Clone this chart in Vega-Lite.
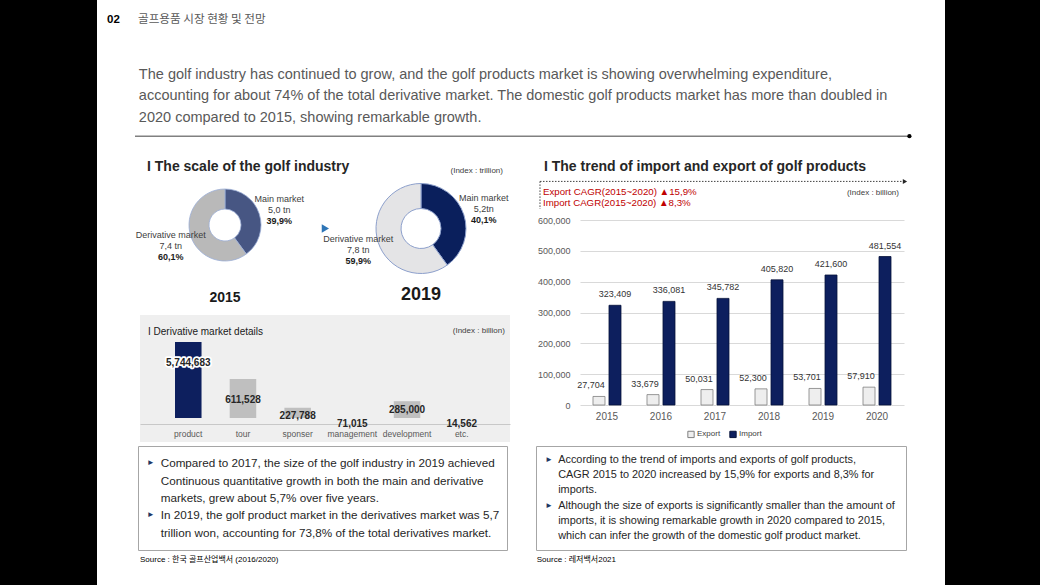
{
  "$schema": "https://vega.github.io/schema/vega-lite/v6.json",
  "background": "#ffffff",
  "padding": 0,
  "spacing": 0,
  "config": {
    "view": {"stroke": null},
    "concat": {"spacing": 0},
    "font": "Liberation Sans, Noto Sans CJK KR, DejaVu Sans, sans-serif"
  },
  "datasets": {
    "derivative": [
      {"category": "product", "value": 5744683},
      {"category": "tour", "value": 611528},
      {"category": "sponser", "value": 227788},
      {"category": "management", "value": 71015},
      {"category": "development", "value": 285000},
      {"category": "etc.", "value": 14562}
    ]
  },
  "hconcat": [
    {"width": 97, "height": 585, "view": {"fill": "#000000", "stroke": null}, "data": {"values": []}, "mark": "point"},
    {
      "spacing": 0,
      "vconcat": [
        {
          "spacing": 0,
          "hconcat": [
            {"width": 10, "height": 40, "data": {"values": []}, "mark": "point"},
            {"width": 26.6, "height": 40, "data": {"values": [{"section": "02"}]},
             "mark": {"type": "text", "align": "left", "baseline": "middle", "fontSize": 11.5, "fontWeight": "bold", "color": "#000000"},
             "encoding": {"x": {"datum": 0, "type": "quantitative", "scale": {"domain": [0, 1]}, "axis": null}, "text": {"field": "section"}}},
            {"width": 809.4, "height": 40, "data": {"values": [{"heading": "골프용품 시장 현황 및 전망"}]},
             "mark": {"type": "text", "align": "left", "baseline": "middle", "fontSize": 11.6, "color": "#595959", "font": "Noto Sans CJK KR"},
             "encoding": {"x": {"datum": 0.0049, "type": "quantitative", "scale": {"domain": [0, 1]}, "axis": null}, "text": {"field": "heading"}}}
          ]
        },
        {"width": 846, "height": 13, "data": {"values": []}, "mark": "point"},
        {
          "spacing": 0,
          "hconcat": [
            {"width": 36.6, "height": 86, "data": {"values": []}, "mark": "point"},
            {"width": 774.4, "height": 86,
             "layer": [
               {"data": {"values": [
                  {"line": 1, "text": "The golf industry has continued to grow, and the golf products market is showing overwhelming expenditure,"},
                  {"line": 2, "text": "accounting for about 74% of the total derivative market. The domestic golf products market has more than doubled in"},
                  {"line": 3, "text": "2020 compared to 2015, showing remarkable growth."}
                ]},
                "mark": {"type": "text", "align": "left", "baseline": "middle", "fontSize": 14.5, "color": "#595959"},
                "encoding": {
                  "x": {"datum": 0.005, "type": "quantitative", "scale": {"domain": [0, 1]}, "axis": null},
                  "y": {"field": "line", "type": "quantitative", "scale": {"domain": [0, 3.963], "reverse": true}, "axis": null},
                  "text": {"field": "text"}
                }},
               {"data": {"values": [{"divider": "section rule"}]},
                "mark": {"type": "rule", "color": "#808080", "strokeWidth": 1.5},
                "encoding": {"x": {"datum": 0, "type": "quantitative"}, "x2": {"datum": 1}, "y": {"datum": 3.87, "type": "quantitative"}}},
               {"data": {"values": [{"divider": "section rule"}]},
                "mark": {"type": "point", "filled": true, "size": 18, "color": "#000000", "opacity": 1},
                "encoding": {"x": {"datum": 1, "type": "quantitative"}, "y": {"datum": 3.87, "type": "quantitative"}}}
             ]},
            {"width": 32.6, "height": 86, "data": {"values": []}, "mark": "point"}
          ]
        },
        {
          "spacing": 0,
          "hconcat": [
            {"width": 32, "height": 301, "data": {"values": []}, "mark": "point"},
            {
              "spacing": 0,
              "vconcat": [
                {"width": 392, "height": 14, "data": {"values": []}, "mark": "point"},
                {"width": 392, "height": 28,
                 "layer": [
                   {"data": {"values": [{"label": "I The scale of the golf industry"}]},
                    "mark": {"type": "text", "align": "left", "baseline": "middle", "fontSize": 14, "fontWeight": "bold", "color": "#262626"},
                    "encoding": {"x": {"datum": 0.0459, "type": "quantitative", "scale": {"domain": [0, 1]}, "axis": null}, "text": {"field": "label"}}},
                   {"data": {"values": [{"label": "(Index : trillion)"}]},
                    "mark": {"type": "text", "align": "right", "baseline": "middle", "dy": 4, "fontSize": 8, "color": "#404040"},
                    "encoding": {"x": {"datum": 0.954, "type": "quantitative"}, "text": {"field": "label"}}}
                 ]},
                {
                  "spacing": 0,
                  "hconcat": [
                    {"width": 192, "height": 86,
                     "data": {"values": [
                       {"segment": "Main market", "amount": "5,0 tn", "share": 39.9, "pct": "39,9%"},
                       {"segment": "Derivative market", "amount": "7,4 tn", "share": 60.1, "pct": "60,1%"}
                     ]},
                     "encoding": {
                       "theta": {"field": "share", "type": "quantitative", "stack": true},
                       "order": {"field": "segment", "sort": "descending"}
                     },
                     "layer": [
                       {"mark": {"type": "arc", "outerRadius": 36, "innerRadius": 16, "stroke": "#9badd6", "strokeWidth": 0.8},
                        "encoding": {"detail": {"field": "segment"}, "color": {"condition": {"test": "datum.segment === 'Main market'", "value": "#475683"}, "value": "#b9b9b9"}}},
                       {"mark": {"type": "text", "radius": 57, "dy": -8, "fontSize": 9, "color": "#404040"},
                        "encoding": {"detail": {"field": "segment"}, "text": {"field": "segment"}}},
                       {"mark": {"type": "text", "radius": 57, "dy": 3, "fontSize": 9, "color": "#404040"},
                        "encoding": {"detail": {"field": "segment"}, "text": {"field": "amount"}}},
                       {"mark": {"type": "text", "radius": 57, "dy": 14, "fontSize": 9, "fontWeight": "bold", "color": "#1a1a1a"},
                        "encoding": {"detail": {"field": "segment"}, "text": {"field": "pct"}}},
                       {"data": {"values": [{"total": "12.3"}]},
                        "mark": {"type": "text", "fontSize": 13.5, "color": "#1fb1c0", "font": "Noto Sans"},
                        "encoding": {"text": {"field": "total"}}}
                     ]},
                    {"width": 200, "height": 93,
                     "data": {"values": [
                       {"segment": "Main market", "amount": "5,2tn", "share": 40.1, "pct": "40,1%"},
                       {"segment": "Derivative market", "amount": "7,8 tn", "share": 59.9, "pct": "59,9%"}
                     ]},
                     "encoding": {
                       "theta": {"field": "share", "type": "quantitative", "stack": true},
                       "order": {"field": "segment", "sort": "descending"}
                     },
                     "layer": [
                       {"mark": {"type": "arc", "outerRadius": 45, "innerRadius": 20, "stroke": "#8da0cc", "strokeWidth": 1},
                        "encoding": {"detail": {"field": "segment"}, "color": {"condition": {"test": "datum.segment === 'Main market'", "value": "#0a1f5c"}, "value": "#e4e4e6"}}},
                       {"mark": {"type": "text", "radius": 66, "dy": -10, "fontSize": 9, "color": "#404040"},
                        "encoding": {"detail": {"field": "segment"}, "text": {"field": "segment"}}},
                       {"mark": {"type": "text", "radius": 66, "dy": 1, "fontSize": 9, "color": "#404040"},
                        "encoding": {"detail": {"field": "segment"}, "text": {"field": "amount"}}},
                       {"mark": {"type": "text", "radius": 66, "dy": 12, "fontSize": 9, "fontWeight": "bold", "color": "#1a1a1a"},
                        "encoding": {"detail": {"field": "segment"}, "text": {"field": "pct"}}},
                       {"data": {"values": [{"total": "13.0"}]},
                        "mark": {"type": "text", "fontSize": 20, "color": "#1fb1c0", "font": "Noto Sans"},
                        "encoding": {"text": {"field": "total"}}},
                       {"data": {"values": [{"marker": "arrow"}]},
                        "mark": {"type": "point", "shape": "triangle-right", "filled": true, "size": 70, "color": "#2e75b6", "opacity": 1},
                        "encoding": {"x": {"datum": 0.022, "type": "quantitative", "scale": {"domain": [0, 1]}, "axis": null}}}
                     ]}
                  ]
                },
                {"width": 392, "height": 8, "data": {"values": []}, "mark": "point"},
                {
                  "spacing": 0,
                  "hconcat": [
                    {"width": 192, "height": 24, "data": {"values": [{"year": "2015"}]},
                     "mark": {"type": "text", "fontSize": 14, "fontWeight": "bold", "color": "#1a1a1a", "dy": 2},
                     "encoding": {"text": {"field": "year"}}},
                    {"width": 200, "height": 24, "data": {"values": [{"year": "2019"}]},
                     "mark": {"type": "text", "fontSize": 18, "fontWeight": "bold", "color": "#1a1a1a", "dy": -1},
                     "encoding": {"text": {"field": "year"}}}
                  ]
                },
                {"width": 392, "height": 7, "data": {"values": []}, "mark": "point"},
                {
                  "spacing": 0,
                  "hconcat": [
                    {"width": 11, "height": 27, "data": {"values": []}, "mark": "point"},
                    {"width": 370, "height": 27, "view": {"fill": "#efefef", "stroke": null},
                     "layer": [
                       {"data": {"values": [{"label": "I Derivative market details"}]},
                        "mark": {"type": "text", "align": "left", "baseline": "middle", "dy": 3.5, "fontSize": 10, "color": "#1a1a1a"},
                        "encoding": {"x": {"datum": 0.0216, "type": "quantitative", "scale": {"domain": [0, 1]}, "axis": null}, "text": {"field": "label"}}},
                       {"data": {"values": [{"label": "(Index : billion)"}]},
                        "mark": {"type": "text", "align": "right", "baseline": "middle", "dy": 2.5, "fontSize": 8, "color": "#404040"},
                        "encoding": {"x": {"datum": 0.986, "type": "quantitative"}, "text": {"field": "label"}}}
                     ]}
                  ]
                },
                {
                  "spacing": 0,
                  "hconcat": [
                    {"width": 11, "height": 100, "data": {"values": []}, "mark": "point"},
                    {"width": 370, "height": 100, "view": {"fill": "#efefef", "stroke": null},
                     "data": {"name": "derivative"},
                     "encoding": {
                       "x": {"field": "category", "type": "nominal", "sort": null, "scale": {"paddingInner": 0.515, "paddingOuter": 0.64},
                             "axis": {"title": null, "labelAngle": 0, "ticks": false, "domain": true, "domainColor": "#c8c8c8", "offset": -18, "labelColor": "#595959", "labelFontSize": 8.5, "labelPadding": 5, "labelOverlap": false}},
                       "y": {"field": "value", "type": "quantitative", "scale": {"type": "log", "domain": [160000, 2180000], "range": [76, 0], "clamp": true}, "axis": null}
                     },
                     "layer": [
                       {"mark": {"type": "bar"},
                        "encoding": {
                          "y2": {"datum": 160000},
                          "color": {"condition": {"test": "datum.category === 'product'", "value": "#0d1f5e"}, "value": "#bfbfbf"}
                        }},
                       {"transform": [{"filter": {"field": "category", "oneOf": ["product"]}}],
                        "mark": {"type": "text", "baseline": "middle", "dy": 21, "fontSize": 10, "fontWeight": "bold", "stroke": "#ffffff", "strokeWidth": 3.5, "strokeJoin": "round", "color": "#ffffff"},
                        "encoding": {"text": {"field": "value", "type": "quantitative", "format": ",d"}}},
                       {"transform": [{"filter": {"field": "category", "oneOf": ["product", "tour"]}}],
                        "mark": {"type": "text", "baseline": "middle", "dy": 21, "fontSize": 10, "fontWeight": "bold", "color": "#262626"},
                        "encoding": {"text": {"field": "value", "type": "quantitative", "format": ",d"}}},
                       {"transform": [{"filter": {"field": "category", "oneOf": ["sponser", "development"]}}],
                        "mark": {"type": "text", "baseline": "middle", "dy": 8.5, "fontSize": 10, "fontWeight": "bold", "color": "#262626"},
                        "encoding": {"text": {"field": "value", "type": "quantitative", "format": ",d"}}},
                       {"transform": [{"filter": {"field": "category", "oneOf": ["management", "etc."]}}],
                        "mark": {"type": "text", "baseline": "middle", "dy": 6, "fontSize": 10, "fontWeight": "bold", "color": "#262626"},
                        "encoding": {"text": {"field": "value", "type": "quantitative", "format": ",d"}}}
                     ]}
                  ]
                }
              ]
            },
            {"width": 9, "height": 301, "data": {"values": []}, "mark": "point"},
            {
              "spacing": 0,
              "vconcat": [
                {"width": 380, "height": 14, "data": {"values": []}, "mark": "point"},
                {"width": 380, "height": 24, "data": {"values": [{"label": "I The trend of import and export of golf products"}]},
                 "mark": {"type": "text", "align": "left", "baseline": "middle", "dy": 2, "fontSize": 14, "fontWeight": "bold", "color": "#262626"},
                 "encoding": {"x": {"datum": 0.0368, "type": "quantitative", "scale": {"domain": [0, 1]}, "axis": null}, "text": {"field": "label"}}},
                {"width": 380, "height": 33,
                 "layer": [
                   {"data": {"values": [{"frame": "CAGR note"}]},
                    "mark": {"type": "rule", "color": "#404040", "strokeDash": [1.5, 1.5], "strokeWidth": 1},
                    "encoding": {
                      "x": {"datum": 0.0263, "type": "quantitative", "scale": {"domain": [0, 1]}, "axis": null},
                      "x2": {"datum": 0.9868},
                      "y": {"datum": 0, "type": "quantitative", "scale": {"domain": [-0.35, 2.5], "reverse": true}, "axis": null}
                    }},
                   {"data": {"values": [{"frame": "CAGR note"}]},
                    "mark": {"type": "rule", "color": "#404040", "strokeDash": [1.5, 1.5], "strokeWidth": 1},
                    "encoding": {"x": {"datum": 0.0263, "type": "quantitative"}, "y": {"datum": 0, "type": "quantitative"}, "y2": {"datum": 2.5}}},
                   {"data": {"values": [{"frame": "CAGR note"}]},
                    "mark": {"type": "point", "shape": "triangle-right", "filled": true, "size": 25, "color": "#262626", "opacity": 1},
                    "encoding": {"x": {"datum": 0.9868, "type": "quantitative"}, "y": {"datum": 0, "type": "quantitative"}}},
                   {"data": {"values": [
                      {"line": 1, "text": "Export CAGR(2015~2020) ▲15,9%"},
                      {"line": 2, "text": "Import CAGR(2015~2020) ▲8,3%"}
                    ]},
                    "mark": {"type": "text", "align": "left", "baseline": "middle", "fontSize": 9.7, "color": "#c00000"},
                    "encoding": {"x": {"datum": 0.0342, "type": "quantitative"}, "y": {"field": "line", "type": "quantitative"}, "text": {"field": "text"}}},
                   {"data": {"values": [{"line": 1, "text": "(Index : billion)"}]},
                    "mark": {"type": "text", "align": "right", "baseline": "middle", "dy": 1, "fontSize": 8, "color": "#404040"},
                    "encoding": {"x": {"datum": 0.971, "type": "quantitative"}, "y": {"field": "line", "type": "quantitative"}, "text": {"field": "text"}}}
                 ]},
                {"width": 380, "height": 5.5, "data": {"values": []}, "mark": "point"},
                {
                  "spacing": 0,
                  "resolve": {"scale": {"color": "independent", "stroke": "independent"}, "legend": {"color": "independent", "stroke": "independent"}},
                  "hconcat": [
                    {"width": 7, "height": 185, "data": {"values": []}, "mark": "point"},
                    {"width": 324, "height": 185,
                     "data": {"values": [
                       {"year": "2015", "type": "Export", "value": 27704}, {"year": "2015", "type": "Import", "value": 323409},
                       {"year": "2016", "type": "Export", "value": 33679}, {"year": "2016", "type": "Import", "value": 336081},
                       {"year": "2017", "type": "Export", "value": 50031}, {"year": "2017", "type": "Import", "value": 345782},
                       {"year": "2018", "type": "Export", "value": 52300}, {"year": "2018", "type": "Import", "value": 405820},
                       {"year": "2019", "type": "Export", "value": 53701}, {"year": "2019", "type": "Import", "value": 421600},
                       {"year": "2020", "type": "Export", "value": 57910}, {"year": "2020", "type": "Import", "value": 481554}
                     ]},
                     "encoding": {
                       "x": {"field": "year", "type": "ordinal", "scale": {"paddingInner": 0.4815, "paddingOuter": 0.2407},
                             "axis": {"title": null, "labelAngle": 0, "ticks": false, "domain": false, "labelColor": "#595959", "labelFontSize": 10, "labelPadding": 6}},
                       "xOffset": {"field": "type", "type": "nominal", "scale": {"domain": ["Export", "Import"], "paddingInner": 0.25, "paddingOuter": 0}},
                       "y": {"field": "value", "type": "quantitative", "scale": {"domain": [0, 600000]},
                             "axis": {"title": null, "values": [0, 100000, 200000, 300000, 400000, 500000, 600000], "format": ",d", "domain": false, "ticks": false, "grid": true, "gridColor": "#d9d9d9", "labelColor": "#595959", "labelFontSize": 9, "labelPadding": 10}}
                     },
                     "layer": [
                       {"mark": {"type": "bar", "strokeWidth": 0.8},
                        "encoding": {
                          "color": {"field": "type", "type": "nominal", "scale": {"domain": ["Export", "Import"], "range": ["#eeeeee", "#0d1f5e"]},
                                    "legend": {"orient": "none", "legendX": 107, "legendY": 210, "direction": "horizontal", "title": null, "symbolType": "square", "symbolSize": 40, "labelFontSize": 8, "labelColor": "#404040", "columnPadding": 6, "labelOffset": 2, "symbolStrokeWidth": 1}},
                          "stroke": {"field": "type", "type": "nominal", "scale": {"domain": ["Export", "Import"], "range": ["#7f7f7f", "#06123a"]},
                                     "legend": {"orient": "none", "legendX": 107, "legendY": 210, "direction": "horizontal", "title": null, "symbolType": "square", "symbolSize": 40, "labelFontSize": 8, "labelColor": "#404040", "columnPadding": 6, "labelOffset": 2, "symbolStrokeWidth": 1}}
                        }},
                       {"transform": [{"filter": "datum.type === 'Import'"}],
                        "mark": {"type": "text", "baseline": "middle", "dy": -11, "fontSize": 9, "color": "#333333"},
                        "encoding": {"text": {"field": "value", "type": "quantitative", "format": ",d"}}},
                       {"transform": [{"filter": "datum.type === 'Export'"}],
                        "mark": {"type": "text", "baseline": "middle", "dy": -11, "dx": -8, "fontSize": 9, "color": "#333333"},
                        "encoding": {"text": {"field": "value", "type": "quantitative", "format": ",d"}}}
                     ]}
                  ]
                }
              ]
            },
            {"width": 33, "height": 301, "data": {"values": []}, "mark": "point"}
          ]
        },
        {"width": 846, "height": 3, "data": {"values": []}, "mark": "point"},
        {
          "spacing": 0,
          "hconcat": [
            {"width": 39.5, "height": 104, "data": {"values": []}, "mark": "point"},
            {"width": 369, "height": 104, "view": {"stroke": "#a6a6a6", "strokeWidth": 1},
             "data": {"values": [
               {"line": 1, "bullet": "►", "text": "Compared to 2017, the size of the golf industry in 2019 achieved"},
               {"line": 2, "bullet": "", "text": "Continuous quantitative growth in both the main and derivative"},
               {"line": 3, "bullet": "", "text": "markets, grew about 5,7% over five years."},
               {"line": 4, "bullet": "►", "text": "In 2019, the golf product market in the derivatives market was 5,7"},
               {"line": 5, "bullet": "", "text": "trillion won, accounting for 73,8% of the total derivatives market."}
             ]},
             "encoding": {"y": {"field": "line", "type": "ordinal", "scale": {"type": "point", "padding": 1.2}, "axis": null}},
             "layer": [
               {"mark": {"type": "text", "align": "left", "baseline": "middle", "fontSize": 8, "color": "#1f3864"},
                "encoding": {"x": {"datum": 0.024, "type": "quantitative", "scale": {"domain": [0, 1]}, "axis": null}, "text": {"field": "bullet"}}},
               {"mark": {"type": "text", "align": "left", "baseline": "middle", "fontSize": 11.7, "color": "#262626"},
                "encoding": {"x": {"datum": 0.0615, "type": "quantitative"}, "text": {"field": "text"}}}
             ]},
            {"width": 27, "height": 104, "data": {"values": []}, "mark": "point"},
            {"width": 370, "height": 104, "view": {"stroke": "#a6a6a6", "strokeWidth": 1},
             "data": {"values": [
               {"line": 1, "bullet": "►", "text": "According to the trend of imports and exports of golf products,"},
               {"line": 2, "bullet": "", "text": "CAGR 2015 to 2020 increased by 15,9% for exports and 8,3% for"},
               {"line": 3, "bullet": "", "text": "imports."},
               {"line": 4, "bullet": "►", "text": "Although the size of exports is significantly smaller than the amount of"},
               {"line": 5, "bullet": "", "text": "imports, it is showing remarkable growth in 2020 compared to 2015,"},
               {"line": 6, "bullet": "", "text": "which can infer the growth of the domestic golf product market."}
             ]},
             "encoding": {"y": {"field": "line", "type": "ordinal", "scale": {"type": "point", "padding": 0.95}, "axis": null}},
             "layer": [
               {"mark": {"type": "text", "align": "left", "baseline": "middle", "fontSize": 8, "color": "#1f3864"},
                "encoding": {"x": {"datum": 0.024, "type": "quantitative", "scale": {"domain": [0, 1]}, "axis": null}, "text": {"field": "bullet"}}},
               {"mark": {"type": "text", "align": "left", "baseline": "middle", "fontSize": 10.9, "color": "#262626"},
                "encoding": {"x": {"datum": 0.06, "type": "quantitative"}, "text": {"field": "text"}}}
             ]},
            {"width": 36.5, "height": 104, "data": {"values": []}, "mark": "point"}
          ]
        },
        {
          "spacing": 0,
          "hconcat": [
            {"width": 43, "height": 18, "data": {"values": []}, "mark": "point"},
            {"width": 396, "height": 18, "data": {"values": [{"source": "Source : 한국 골프산업백서 (2016/2020)"}]},
             "mark": {"type": "text", "align": "left", "fontSize": 8, "color": "#000000"},
             "encoding": {"x": {"datum": 0, "type": "quantitative", "scale": {"domain": [0, 1]}, "axis": null}, "text": {"field": "source"}}},
            {"width": 370, "height": 18, "data": {"values": [{"source": "Source : 레저백서2021"}]},
             "mark": {"type": "text", "align": "left", "fontSize": 8, "color": "#000000"},
             "encoding": {"x": {"datum": 0.002, "type": "quantitative", "scale": {"domain": [0, 1]}, "axis": null}, "text": {"field": "source"}}},
            {"width": 37, "height": 18, "data": {"values": []}, "mark": "point"}
          ]
        }
      ]
    },
    {"width": 97, "height": 585, "view": {"fill": "#000000", "stroke": null}, "data": {"values": []}, "mark": "point"}
  ]
}
